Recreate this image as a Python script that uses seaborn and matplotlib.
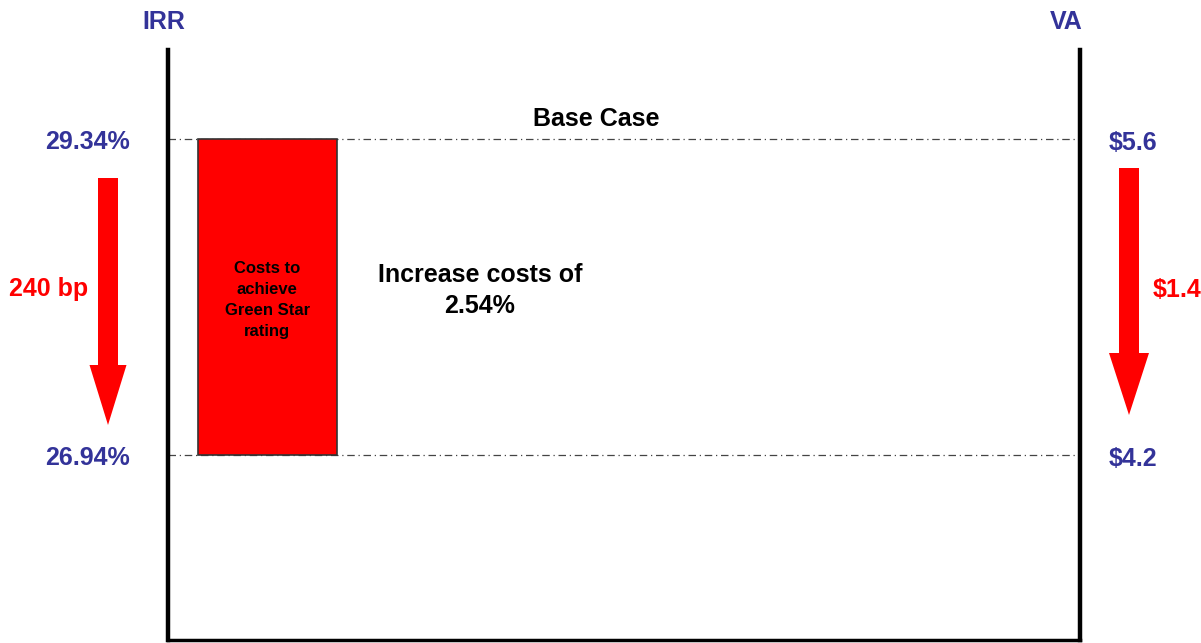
import matplotlib
matplotlib.use("Agg")
import matplotlib.pyplot as plt
import matplotlib.transforms as mtransforms
from matplotlib.patches import FancyArrow
import pandas as pd
import seaborn as sns

# chart values
irr_values = [29.34, 26.94]
irr_labels = ["29.34%", "26.94%"]
va_values = [5.6, 4.2]
va_labels = ["\\$5.6", "\\$4.2"]
irr_drop_label = "240 bp"
va_drop_label = "\\$1.4"
bar_label = "Costs to\nachieve\nGreen Star\nrating"
note_label = "Increase costs of\n2.54%"

sns.set_style("white")
plt.rcParams["font.family"] = ["Liberation Sans", "DejaVu Sans"]
plt.rcParams["text.color"] = "black"

blue = "#333399"
red = "#FF0000"
big = 18

fig = plt.figure(figsize=(12.01, 6.43), dpi=100)
ax = fig.add_axes([168 / 1201, 3 / 643, 912 / 1201, 590 / 643])

# floating bar: from low IRR to high IRR
df = pd.DataFrame({"x": [0.109], "low": [irr_values[1]], "high": [irr_values[0]]})
ax.bar(df["x"], df["high"] - df["low"], bottom=df["low"], width=0.1524,
       color=red, edgecolor="#333333", linewidth=1.2, zorder=3)
ax.text(0.109, (irr_values[0] + irr_values[1]) / 2 - 0.02, bar_label, ha="center", va="center",
        fontsize=12, fontweight="bold", color="black", linespacing=1.5, zorder=4)

# dash-dot reference lines
for v in irr_values:
    ax.axhline(v, color="#444444", linestyle=(0, (6, 3, 1, 3)), linewidth=0.9, zorder=2)

ax.set_xlim(0, 1)
ax.set_ylim(25.535, 30.016)
ax.set_xticks([])
ax.set_yticks([])
ax.spines["top"].set_visible(False)
for s in ["left", "right"]:
    ax.spines[s].set_linewidth(3.2)
    ax.spines[s].set_color("black")
ax.spines["bottom"].set_linewidth(2.5)
ax.spines["bottom"].set_color("black")

ax.text(0.47, 29.49, "Base Case", ha="center", va="center", fontsize=big,
        fontweight="bold", color="black")
ax.text(0.342, 28.19, note_label, ha="center", va="center", fontsize=big,
        fontweight="bold", color="black", linespacing=1.4)

# side labels, y in data units
trans = mtransforms.blended_transform_factory(fig.transFigure, ax.transData)
for v, lab in zip(irr_values, irr_labels):
    ax.text(87 / 1201, v - 0.02, lab, transform=trans, ha="center", va="center",
            fontsize=big, fontweight="bold", color=blue, clip_on=False)
for v, lab in zip(irr_values, va_labels):
    ax.text(1133 / 1201, v - 0.03, lab, transform=trans, ha="center", va="center",
            fontsize=big, fontweight="bold", color=blue, clip_on=False)

fig.text(164 / 1201, 1 - 22 / 643, "IRR", ha="center", va="center", fontsize=big,
         fontweight="bold", color=blue)
fig.text(1066 / 1201, 1 - 22 / 643, "VA", ha="center", va="center", fontsize=big,
         fontweight="bold", color=blue)
fig.text(49 / 1201, 1 - 289 / 643, irr_drop_label, ha="center", va="center", fontsize=big,
         fontweight="bold", color=red)
fig.text(1153 / 1201, 1 - 290 / 643, va_drop_label, ha="left", va="center", fontsize=big,
         fontweight="bold", color=red)

# drop arrows (inches from bottom-left)
for xc, y0, y1, hw, hl in [(1.08, 4.65, 2.18, 0.37, 0.60), (11.29, 4.75, 2.28, 0.40, 0.62)]:
    arr = FancyArrow(xc, y0, 0, y1 - y0, width=0.20, head_width=hw, head_length=hl,
                     length_includes_head=True, color=red, linewidth=0,
                     transform=fig.dpi_scale_trans)
    fig.patches.append(arr)

fig.savefig("out.png", dpi=100)
